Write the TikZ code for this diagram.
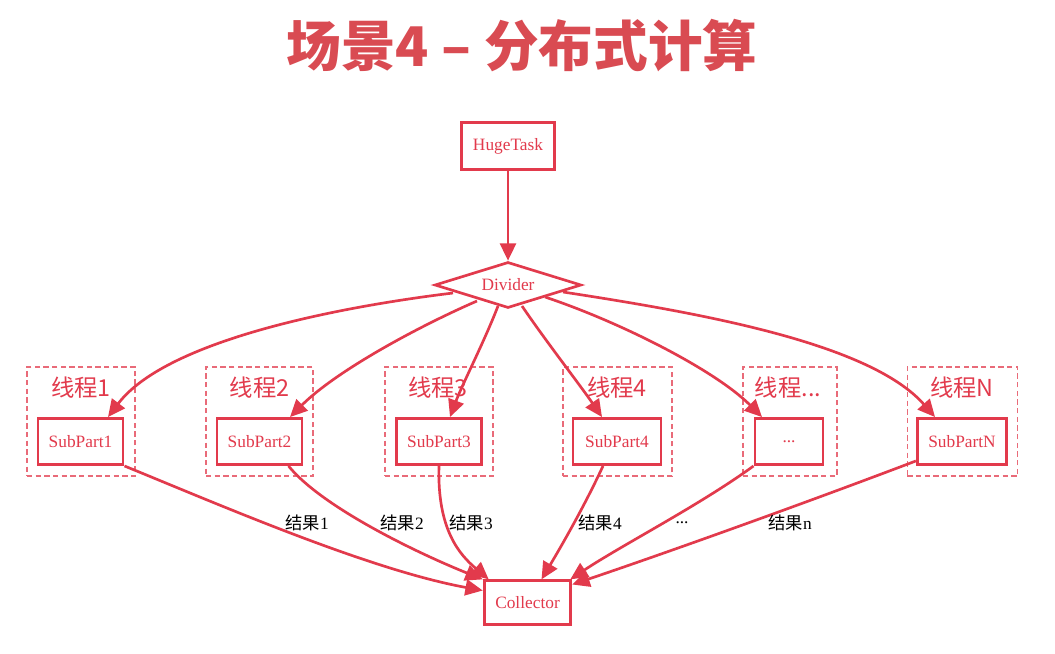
\documentclass[tikz,border=0pt]{standalone}
\usepackage{fontspec}
\setmainfont{Liberation Serif}
\newfontfamily\cjk{Noto Sans CJK SC}
\usetikzlibrary{shapes.geometric,arrows.meta,calc}
\definecolor{rd}{RGB}{226,58,76}
\definecolor{tred}{RGB}{217,75,82}
\begin{document}
\begin{tikzpicture}[x=0.75pt,y=-0.75pt,
  box/.style={draw=rd,line width=2.2pt,text=rd,font=\fontsize{13}{15}\selectfont,inner sep=0pt,minimum width=63.75pt,minimum height=34.5pt},
  thread/.style={draw=rd!75,line width=0.9pt,dash pattern=on 4pt off 2.5pt,minimum height=81.75pt,inner sep=0pt},
  tlabel/.style={text=rd,font=\cjk\fontsize{17.5}{19}\selectfont,inner sep=0pt},
  edge/.style={draw=rd,line width=2pt,-{Triangle[length=13pt,width=12pt]}},
  res/.style={font=\fontsize{13}{15}\selectfont,inner sep=0pt}]
\fill[white] (0,0) rectangle (1055,653);
\useasboundingbox (0,0) rectangle (1055,653);
% title
\node[text=tred,font=\cjk\bfseries\fontsize{41}{45}\selectfont,inner sep=0pt] (title) at (522,46) {场景4 – 分布式计算};
% top nodes
\node[box,minimum width=70pt,minimum height=35pt] (huge) at (508,146) {HugeTask};
\node[diamond,draw=rd,line width=2pt,text=rd,font=\fontsize{13}{15}\selectfont,inner sep=0pt,aspect=3.3,minimum width=110pt,minimum height=34.5pt] (div) at (508,285) {Divider};
% thread boxes
\node[thread,minimum width=81pt] (t1) at (81,421.5) {};
\node[thread,minimum width=80.25pt] (t2) at (259.5,421.5) {};
\node[thread,minimum width=81pt] (t3) at (439,421.5) {};
\node[thread,minimum width=81.75pt] (t4) at (617.5,421.5) {};
\node[thread,minimum width=70.5pt] (t5) at (790,421.5) {};
\node[thread,minimum width=83pt] (t6) at (962.5,421.5) {};
\node[tlabel] (l1) at (81,388) {线程1};
\node[tlabel] (l2) at (259.5,388) {线程2};
\node[tlabel] (l3) at (438,388) {线程3};
\node[tlabel] (l4) at (617,388) {线程4};
\node[tlabel] (l5) at (788,388) {线程...};
\node[tlabel] (l6) at (962,388) {线程N};
% subparts
\node[box] (sp1) at (80.5,441.5) {SubPart1};
\node[box] (sp2) at (259.5,441.5) {SubPart2};
\node[box] (sp3) at (439,441.5) {SubPart3};
\node[box,minimum width=66pt] (sp4) at (617,441.5) {SubPart4};
\node[box,minimum width=51pt] (sp5) at (789,441.5) {...};
\node[box,minimum width=67pt] (sp6) at (962,441.5) {SubPartN};
% collector
\node[box,minimum width=65pt,minimum height=32.5pt] (col) at (527.5,602.5) {Collector};
% edges from divider
\draw[edge] (huge) -- (div.north);
\draw[edge] ($(div.center)+(-55,8)$) .. controls (330,308) and (165,342) .. ($(sp1.north)+(27.5,0)$);
\draw[edge] ($(div.center)+(-31,16)$) .. controls (415,328) and (335,372) .. ($(sp2.north)+(30.5,0)$);
\draw[edge] ($(div.center)+(-10,21)$) .. controls (485,340) and (462,385) .. ($(sp3.north)+(11,0)$);
\draw[edge] ($(div.center)+(14,21)$) .. controls (545,340) and (580,385) .. ($(sp4.north)+(-15,0)$);
\draw[edge] ($(div.center)+(37,12)$) .. controls (620,322) and (715,370) .. ($(sp5.north)+(-27,0)$);
\draw[edge] ($(div.center)+(55,7)$) .. controls (700,313) and (870,343) .. ($(sp6.north)+(-27,0)$);
% edges to collector
\draw[edge] (sp1.south east) .. controls (220,505) and (370,570) .. ($(col.west)+(0,-12)$);
\draw[edge] ($(sp2.south)+(29,0)$) .. controls (320,505) and (410,550) .. (col.north west);
\draw[edge] (sp3.south) .. controls (437,530) and (460,555) .. ($(col.north west)+(6,0)$);
\draw[edge] ($(sp4.south)+(-14,0)$) .. controls (585,505) and (562,545) .. ($(col.north)+(14,0)$);
\draw[edge] (sp5.south west) .. controls (700,505) and (622,545) .. ($(col.north east)+(-2,0)$);
\draw[edge] ($(sp6.south west)+(0,-5)$) .. controls (800,505) and (660,555) .. ($(col.east)+(0,-18)$);
% result labels
\node[res] (r1) at (307,523) {{\cjk 结果}1};
\node[res] (r2) at (402,523) {{\cjk 结果}2};
\node[res] (r3) at (471,523) {{\cjk 结果}3};
\node[res] (r4) at (600,523) {{\cjk 结果}4};
\node[res] (r5) at (682,523) {...};
\node[res] (r6) at (790,523) {{\cjk 结果}n};
\end{tikzpicture}
\end{document}
